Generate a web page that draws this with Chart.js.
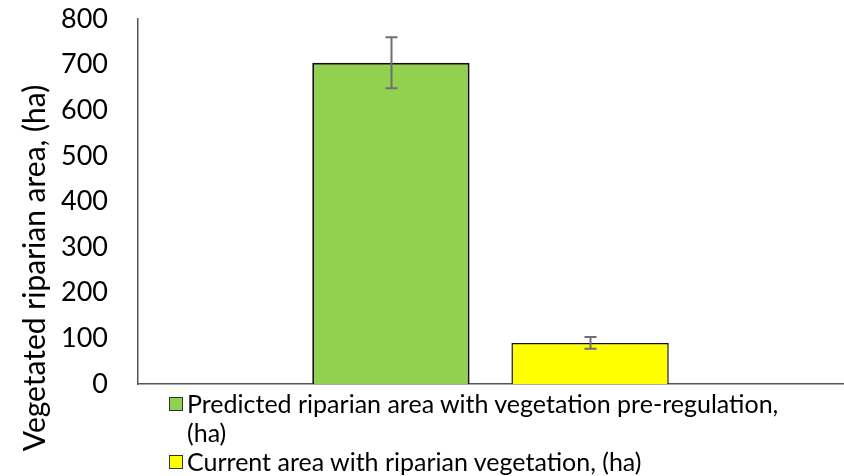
<!DOCTYPE html>
<html>
<head>
<meta charset="utf-8">
<script src="https://cdn.jsdelivr.net/npm/chart.js@4.4.1/dist/chart.umd.min.js"></script>
<style>
  html, body { margin: 0; padding: 0; background: #fff; }
  #wrap { position: relative; width: 844px; height: 476px; }
  #legend {
    position: absolute; left: 169px; top: 389px; width: 670px;
    font-family: Lato, "Open Sans", sans-serif; font-size: 25px; color: #000;
    line-height: 29px;
  }
  .item { display: flex; align-items: flex-start; }
  .box { width: 12px; height: 12px; border: 1px solid #333; margin: 8px 4px 0 0; flex: none; }
  .txt { width: 625px; }
</style>
</head>
<body>
<div id="wrap">
  <canvas id="chart" width="844" height="476"></canvas>
  <div id="legend"></div>
</div>
<script>
// ---------- DATA ----------
const categories = [""];
const seriesNames = [
  "Predicted riparian area with vegetation pre-regulation, (ha)",
  "Current area with riparian vegetation, (ha)"
];
const seriesValues = [[704], [90]];
const seriesErrors = [[56], [13]];
const seriesColors = ["#92D050", "#FFFF00"];
const yTicks = [0, 100, 200, 300, 400, 500, 600, 700, 800];

const FONT = "Lato, 'Open Sans', sans-serif";

// error bars drawn from the y scale
const errorBars = {
  id: "errorBars",
  afterDatasetsDraw(chart) {
    const ctx = chart.ctx;
    const y = chart.scales.y;
    ctx.save();
    ctx.strokeStyle = "#6f6f6f";
    ctx.lineWidth = 2;
    chart.data.datasets.forEach((ds, i) => {
      const meta = chart.getDatasetMeta(i);
      meta.data.forEach((bar, j) => {
        const v = ds.data[j];
        const e = seriesErrors[i][j];
        const top = y.getPixelForValue(v + e);
        const bot = y.getPixelForValue(v - e);
        const x = Math.round(bar.x) + 0.5;
        ctx.beginPath();
        ctx.moveTo(x, top); ctx.lineTo(x, bot);
        ctx.moveTo(x - 6, top); ctx.lineTo(x + 6, top);
        ctx.moveTo(x - 6, bot); ctx.lineTo(x + 6, bot);
        ctx.stroke();
      });
    });
    ctx.restore();
  }
};

// rotated y title, placed like the original
const yTitle = {
  id: "yTitle",
  afterDraw(chart) {
    const ctx = chart.ctx;
    ctx.save();
    ctx.translate(35, 268);
    ctx.rotate(-Math.PI / 2);
    ctx.font = "30px " + FONT;
    ctx.fillStyle = "#000";
    ctx.textAlign = "center";
    ctx.textBaseline = "middle";
    ctx.fillText("Vegetated riparian area, (ha)", 0, 0);
    ctx.restore();
  }
};

const chart = new Chart(document.getElementById("chart"), {
  type: "bar",
  data: {
    labels: categories,
    datasets: seriesNames.map((name, i) => ({
      label: name,
      data: seriesValues[i],
      backgroundColor: seriesColors[i],
      borderColor: "#111",
      borderWidth: i === 0 ? 2 : 1.5,
      borderSkipped: "bottom",
      categoryPercentage: 0.565,
      barPercentage: 0.79
    }))
  },
  options: {
    responsive: false,
    animation: false,
    layout: { padding: { top: 19, right: 1, bottom: 92, left: 0 } },
    plugins: { legend: { display: false }, tooltip: { enabled: false } },
    scales: {
      x: {
        grid: { display: false, drawTicks: false },
        border: { display: true, color: "#555", width: 1.5 },
        ticks: { display: false }
      },
      y: {
        min: 0, max: 800,
        afterBuildTicks(axis) { axis.ticks = yTicks.map(v => ({ value: v })); },
        grid: { display: false, drawTicks: false },
        border: { display: true, color: "#555", width: 1.5 },
        ticks: { font: { family: FONT, size: 27 }, color: "#000", padding: 30 },
        afterFit(axis) { axis.width = 138; axis.paddingTop = 0; axis.paddingBottom = 0; }
      }
    }
  },
  plugins: [errorBars, yTitle]
});

// ---------- HTML LEGEND ----------
const legend = document.getElementById("legend");
chart.data.datasets.forEach(ds => {
  const item = document.createElement("div");
  item.className = "item";
  const box = document.createElement("span");
  box.className = "box";
  box.style.background = ds.backgroundColor;
  const txt = document.createElement("span");
  txt.className = "txt";
  txt.textContent = ds.label;
  item.appendChild(box);
  item.appendChild(txt);
  legend.appendChild(item);
});
</script>
</body>
</html>
